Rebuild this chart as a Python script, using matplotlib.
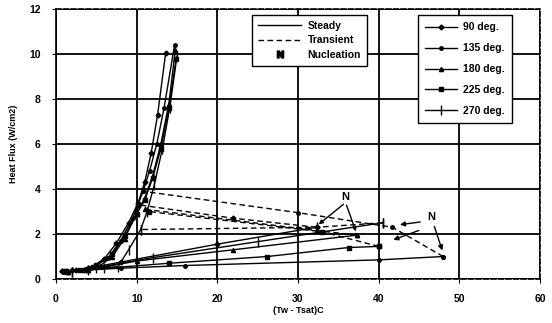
import numpy as np
import matplotlib.pyplot as plt
from matplotlib.lines import Line2D

plt.rcParams['font.family'] = ['Liberation Sans', 'DejaVu Sans']
plt.rcParams['font.weight'] = 'bold'

# orientation labels and marker per series
labels = ['90 deg.', '135 deg.', '180 deg.', '225 deg.', '270 deg.']
markers = ['D', 'o', '^', 's', '|']
msizes = [2.5, 2.5, 3.0, 3.5, 7.0]

# boiling curves (steady, heat flux up and back down)
boil_x = [
    [0.8, 2.5, 4.5, 6.0, 7.5, 9.0, 10.2, 11.0, 11.8, 12.6, 13.6],
    [1.0, 3.0, 5.0, 6.5, 8.0, 9.5, 10.8, 11.6, 12.5, 13.4, 14.7],
    [1.5, 3.5, 5.5, 7.0, 8.5, 10.0, 11.0, 12.0, 13.0, 14.0, 14.8],
    [1.2, 3.0, 5.0, 7.0, 8.5, 10.0, 11.0, 12.0, 13.0, 14.0, 14.9],
    [2.0, 4.0, 6.0, 7.7, 9.0, 10.5, 11.3, 12.2, 13.2, 14.1, 15.0],
]
boil_y = [
    [0.35, 0.38, 0.55, 0.90, 1.6, 2.5, 3.4, 4.3, 5.6, 7.3, 10.05],
    [0.33, 0.40, 0.60, 0.95, 1.7, 2.7, 3.9, 4.8, 6.0, 7.6, 10.4],
    [0.30, 0.40, 0.60, 1.00, 1.8, 2.9, 3.6, 4.6, 6.0, 7.8, 10.2],
    [0.35, 0.42, 0.62, 1.10, 1.9, 2.9, 3.5, 4.5, 5.8, 7.6, 9.8],
    [0.32, 0.40, 0.50, 0.55, 1.3, 2.2, 3.0, 4.2, 5.8, 7.6, 9.9],
]

# natural convection leg up to nucleation (steady)
conv_x = [
    [0.8, 2.0, 4.0, 8.0, 20.0, 32.3],
    [1.0, 3.0, 8.0, 16.0, 40.0, 48.0],
    [1.5, 4.0, 10.0, 22.0, 37.3],
    [1.2, 4.0, 14.0, 26.2, 36.3, 40.0],
    [2.0, 5.0, 12.0, 25.0, 40.5],
]
conv_y = [
    [0.35, 0.38, 0.48, 0.75, 1.55, 2.3],
    [0.33, 0.38, 0.48, 0.60, 0.85, 1.0],
    [0.30, 0.40, 0.80, 1.30, 1.95],
    [0.35, 0.42, 0.70, 1.00, 1.40, 1.45],
    [0.32, 0.50, 0.95, 1.66, 2.5],
]

# transient jump after nucleation
trans_x = [
    [32.3, 22.0, 10.2],
    [48.0, 41.7, 30.0, 10.8],
    [37.3, 32.4, 11.0],
    [40.0, 33.0, 11.5],
    [40.5, 32.3, 10.5],
]
trans_y = [
    [2.3, 2.7, 3.3],
    [1.0, 2.3, 2.95, 3.9],
    [1.95, 2.15, 3.1],
    [1.45, 2.1, 3.0],
    [2.5, 2.3, 2.2],
]

fig = plt.figure(figsize=(5.52, 3.23), dpi=100)
ax = fig.add_axes([0.1014, 0.1362, 0.8768, 0.8358])

for i in range(5):
    kw = dict(color='black', lw=1.0, marker=markers[i], ms=msizes[i],
              mfc='black', mec='black', mew=1.0)
    ax.plot(boil_x[i], boil_y[i], **kw)
    ax.plot(conv_x[i], conv_y[i], **kw)
    ax.plot(trans_x[i], trans_y[i], linestyle=(0, (4, 2.5)), **kw)

# nucleation markers
ax.text(35.9, 3.64, 'N', ha='center', va='center', fontsize=8, fontweight='bold')
for tx, ty in [(32.3, 2.35), (37.3, 2.0)]:
    ax.annotate('', xy=(tx, ty), xytext=(35.9, 3.4),
                arrowprops=dict(arrowstyle='-|>', color='black', lw=1.0,
                                mutation_scale=6))
ax.text(46.5, 2.75, 'N', ha='center', va='center', fontsize=8, fontweight='bold')
for (sx, sy), (tx, ty) in [((45.5, 2.55), (42.3, 2.4)),
                           ((45.3, 2.2), (41.5, 1.7)),
                           ((46.8, 2.45), (48.0, 1.15))]:
    ax.annotate('', xy=(tx, ty), xytext=(sx, sy),
                arrowprops=dict(arrowstyle='-|>', color='black', lw=1.0,
                                mutation_scale=7))

ax.set_xlim(0, 60)
ax.set_ylim(0, 12)
ax.set_xticks(np.arange(0, 61, 10))
ax.set_yticks(np.arange(0, 13, 2))
ax.grid(True, color='black', lw=1.3)
ax.set_axisbelow(True)
ax.tick_params(labelsize=7.5, length=3, color='black', pad=8)
for s in ['top', 'right', 'bottom']:
    ax.spines[s].set_linestyle((0, (3, 1.5)))
for s in ax.spines.values():
    s.set_linewidth(1.2)

ax.set_xlabel('(Tw - Tsat)C', fontsize=6.5, fontweight='bold', labelpad=1)
ax.set_ylabel('Heat Flux (W/cm2)', fontsize=6.5, fontweight='bold', labelpad=8)

h1 = [Line2D([], [], color='black', lw=1.0),
      Line2D([], [], color='black', lw=1.0, ls=(0, (4, 2.5))),
      Line2D([], [], color='black', ls='none', marker=r'$\mathrm{N}$', ms=5)]
leg1 = ax.legend(h1, ['Steady', 'Transient', 'Nucleation'], loc='upper left',
                 bbox_to_anchor=(0.405, 0.978), fancybox=False, edgecolor='black',
                 framealpha=1, fontsize=7.5, handlelength=4.2, borderpad=0.55,
                 labelspacing=0.45, borderaxespad=0, handletextpad=0.6)
leg1.get_frame().set_linewidth(1.0)
ax.add_artist(leg1)

h2 = [Line2D([], [], color='black', lw=1.0, marker=markers[i], ms=msizes[i],
             mfc='black', mec='black') for i in range(5)]
leg2 = ax.legend(h2, labels, loc='upper left', bbox_to_anchor=(0.748, 0.978),
                 fancybox=False, edgecolor='black', framealpha=1, fontsize=7.5,
                 handlelength=3.0, borderpad=0.7, labelspacing=1.05,
                 borderaxespad=0, handletextpad=0.6)
leg2.get_frame().set_linewidth(1.0)

fig.savefig('out.png', dpi=100)
